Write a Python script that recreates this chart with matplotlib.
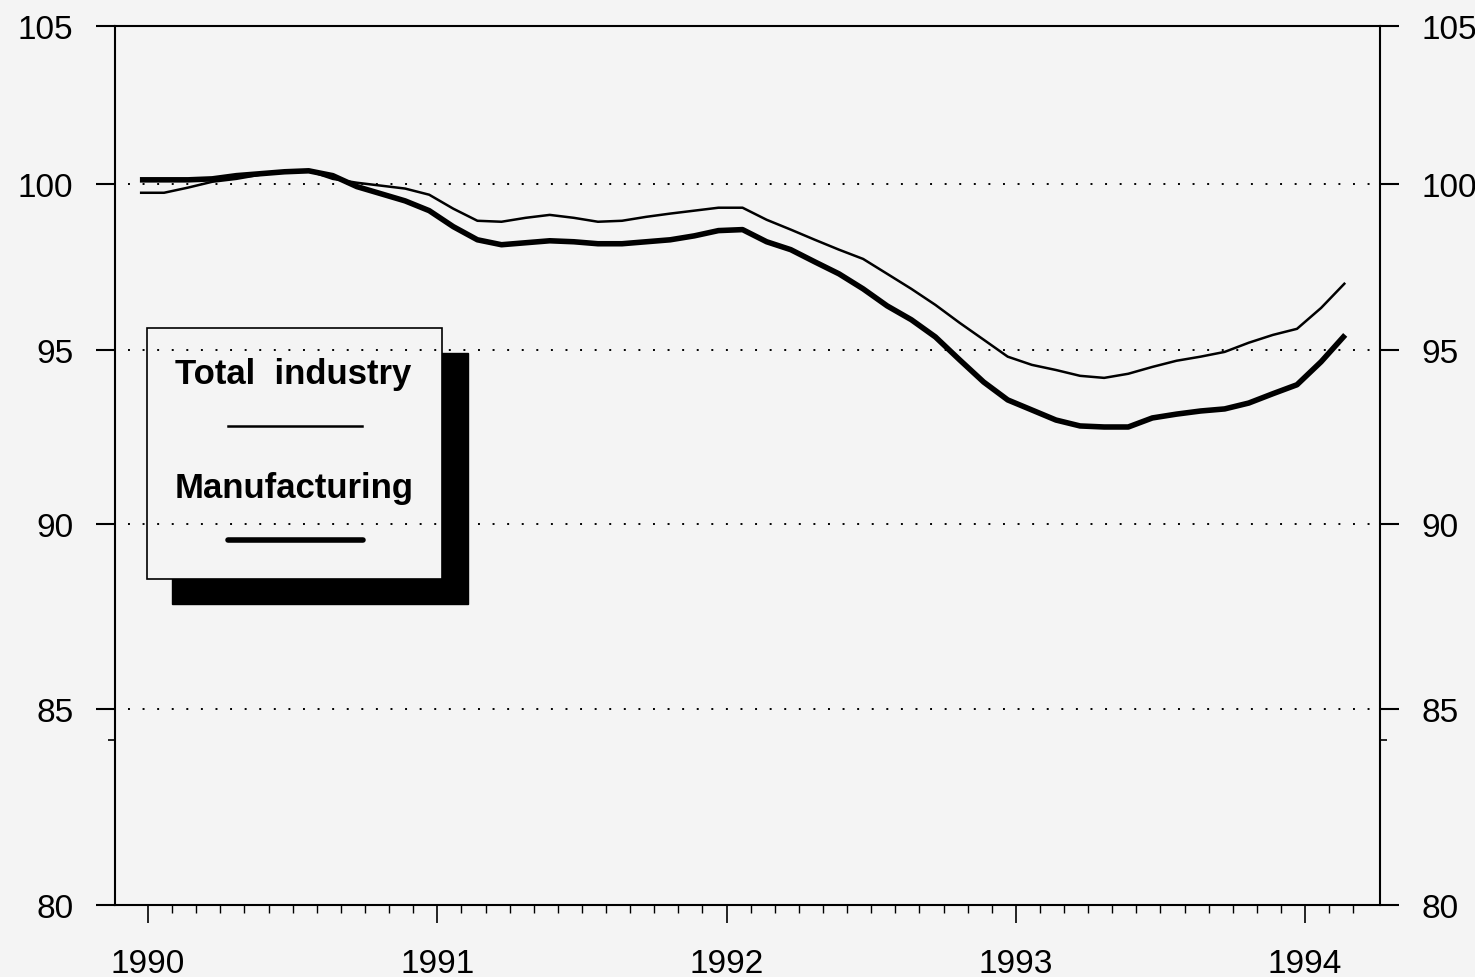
import matplotlib
matplotlib.use("Agg")
import matplotlib.pyplot as plt
from matplotlib.patches import Rectangle
from matplotlib.lines import Line2D
from matplotlib.ticker import FixedLocator, NullFormatter, FixedFormatter
import numpy as np

# ---- data (monthly, Jan 1990 .. Mar 1994), index 1990 = 100, log scale ----
start_year = 1990
n_months = 51
total_industry = [
    99.72, 99.72, 99.88, 100.06, 100.15, 100.28, 100.37, 100.40, 100.15, 100.03,
    99.94, 99.85, 99.66, 99.23, 98.86, 98.83, 98.95, 99.04, 98.95, 98.83,
    98.86, 98.98, 99.08, 99.17, 99.26, 99.26, 98.89, 98.59, 98.28, 97.98,
    97.70, 97.25, 96.80, 96.32, 95.79, 95.29, 94.79, 94.55, 94.40, 94.23,
    94.17, 94.29, 94.49, 94.67, 94.79, 94.93, 95.20, 95.43, 95.61, 96.23,
    96.98,
]
manufacturing = [
    100.12, 100.12, 100.12, 100.15, 100.25, 100.31, 100.37, 100.40, 100.25, 99.91,
    99.69, 99.47, 99.17, 98.68, 98.28, 98.13, 98.19, 98.25, 98.22, 98.16,
    98.16, 98.22, 98.28, 98.40, 98.56, 98.59, 98.22, 97.98, 97.61, 97.25,
    96.80, 96.29, 95.88, 95.37, 94.70, 94.05, 93.53, 93.24, 92.95, 92.78,
    92.75, 92.75, 93.01, 93.12, 93.21, 93.27, 93.44, 93.71, 93.97, 94.64,
    95.43,
]
year_ticks = [1990, 1991, 1992, 1993, 1994]
year_labels = ["1990", "1991", "1992", "1993", "1994"]
y_ticks = [80, 85, 90, 95, 100, 105]
y_labels = ["80", "85", "90", "95", "100", "105"]
grid_values = [85, 90, 95, 100]
y_minor = [84.2]
legend_labels = ["Total  industry", "Manufacturing"]

# ---- figure ----
bg = "#f4f4f4"
plt.rcParams["font.family"] = ["Liberation Sans", "DejaVu Sans"]
fig = plt.figure(figsize=(14.75, 9.78), dpi=100, facecolor=bg)
ax = fig.add_axes([0.078, 0.0736, 0.8576, 0.8988])
ax.set_facecolor(bg)

x = start_year + np.arange(n_months) / 12.0 - 0.028

ax.plot(x, total_industry, color="black", lw=1.8, zorder=3,
        solid_joinstyle="round", solid_capstyle="butt")
ax.plot(x, manufacturing, color="black", lw=4.0, zorder=3,
        solid_joinstyle="round", solid_capstyle="butt")

ax.set_yscale("log")
ax.set_ylim(80, 105)
ax.set_xlim(1989.886, 1994.259)

ax.yaxis.set_major_locator(FixedLocator(y_ticks))
ax.yaxis.set_major_formatter(FixedFormatter(y_labels))
ax.yaxis.set_minor_locator(FixedLocator(y_minor))
ax.yaxis.set_minor_formatter(NullFormatter())

ax.xaxis.set_major_locator(FixedLocator(year_ticks))
ax.xaxis.set_major_formatter(FixedFormatter(year_labels))
minor_x = [start_year + k / 12.0 for k in range(n_months) if k % 12 != 0]
ax.xaxis.set_minor_locator(FixedLocator(minor_x))

for s in ax.spines.values():
    s.set_linewidth(1.5)
ax.spines["top"].set_visible(False)

ax.tick_params(axis="y", which="major", direction="out", length=14, width=1.5,
               left=True, right=True, labelleft=True, labelright=True,
               labelsize=24, pad=16)
ax.tick_params(axis="y", which="minor", direction="out", length=5, width=1.2,
               left=True, right=True)
ax.tick_params(axis="x", which="major", direction="out", length=13, width=1.2,
               labelsize=24, pad=18)
ax.tick_params(axis="x", which="minor", direction="out", length=6, width=1.0)

# top line (105 level)
ax.axhline(105, color="black", lw=1.5, zorder=2, clip_on=False)

# dotted grid
for g in grid_values:
    ax.axhline(g, xmin=0.01, xmax=0.993, color="black", lw=1.4,
               linestyle=(0, (1, 6.5)), zorder=1.5)

# ---- legend box with shadow ----
shadow = Rectangle((0.0451, 0.3424), 0.2340, 0.2856, transform=ax.transAxes,
                   facecolor="black", edgecolor="black", zorder=0.9)
box = Rectangle((0.0253, 0.3709), 0.2332, 0.2855, transform=ax.transAxes,
                facecolor=bg, edgecolor="black", lw=1.2, zorder=1.0)
ax.add_patch(shadow)
ax.add_patch(box)
ax.text(0.1407, 0.6052, legend_labels[0], transform=ax.transAxes, ha="center",
        va="center", fontsize=25, fontweight="bold", zorder=4)
ax.text(0.1415, 0.4755, legend_labels[1], transform=ax.transAxes, ha="center",
        va="center", fontsize=25, fontweight="bold", zorder=4)
ax.add_line(Line2D([0.0893, 0.1953], [0.545, 0.545], transform=ax.transAxes,
                   color="black", lw=1.8, zorder=4))
ax.add_line(Line2D([0.0893, 0.1961], [0.4152, 0.4152], transform=ax.transAxes,
                   color="black", lw=4.0, zorder=4, solid_capstyle="round"))

fig.savefig("out.png", dpi=100, facecolor=bg)
